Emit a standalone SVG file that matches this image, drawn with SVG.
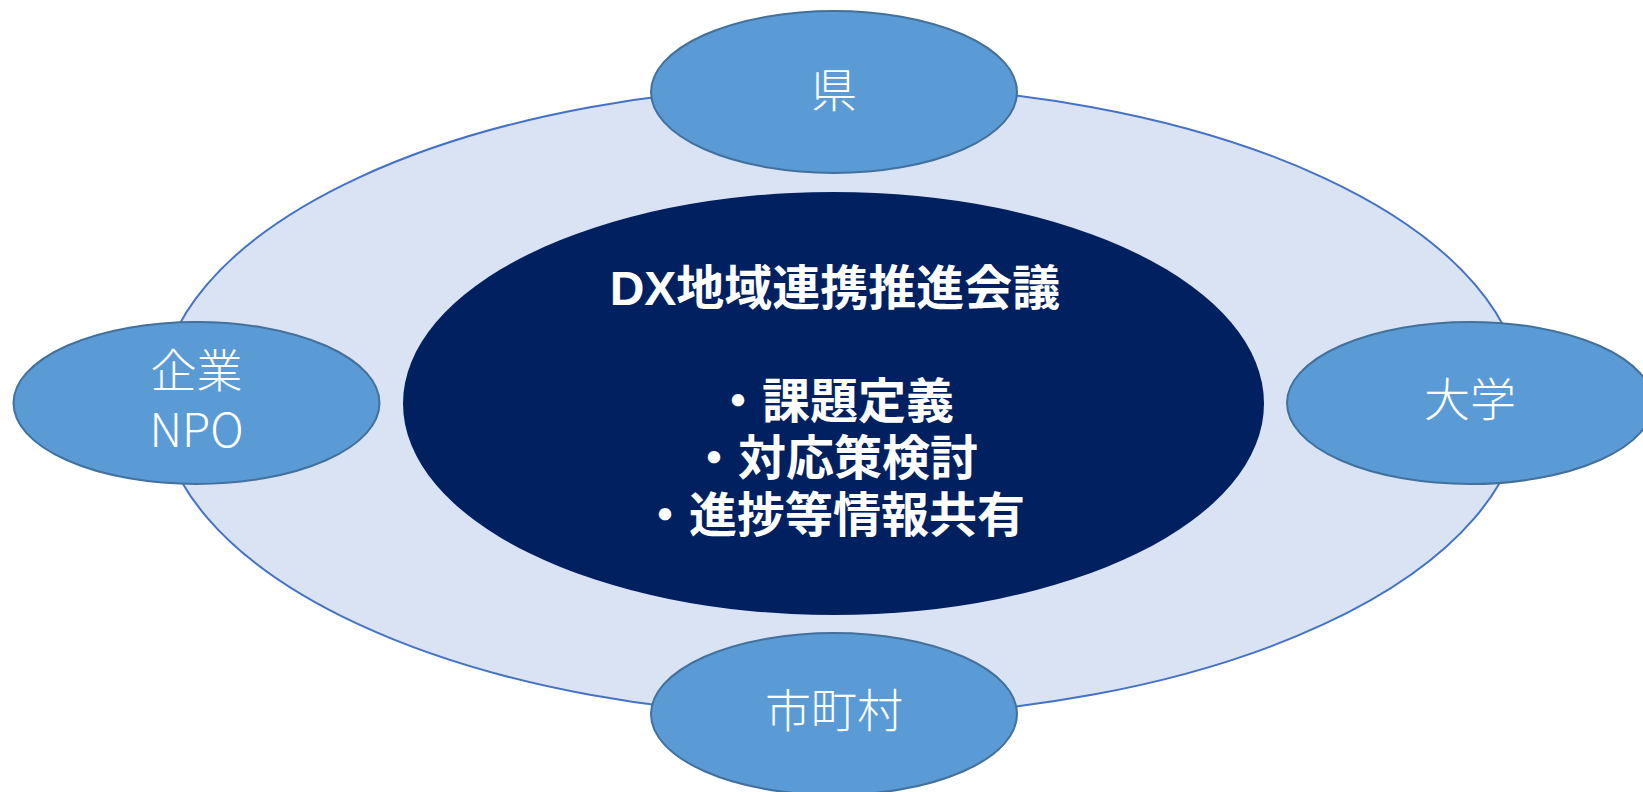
<svg xmlns="http://www.w3.org/2000/svg" width="1643" height="792" viewBox="0 0 1643 792">
<style>
.node{fill:#5B9BD5;stroke:#41719C;stroke-width:2}
.nt{font-family:"Noto Sans CJK JP","Noto Sans",sans-serif;font-size:46px;fill:#fff;text-anchor:middle;font-weight:300}
.ct{font-family:"Liberation Sans","Noto Sans CJK JP",sans-serif;font-size:48px;fill:#fff;text-anchor:middle;font-weight:bold}
</style>
<rect width="1643" height="792" fill="#fff"/>
<g id="ring">
<ellipse cx="841" cy="401" rx="682" ry="316" fill="#DAE3F3" stroke="#4472C4" stroke-width="2"/>
</g>
<g id="center">
<ellipse cx="833.5" cy="403.5" rx="430.5" ry="211.5" fill="#002060"/>
<text class="ct" x="835" y="305">DX地域連携推進会議</text>
<text class="ct" x="834" y="418">・課題定義</text>
<text class="ct" x="834" y="475">・対応策検討</text>
<text class="ct" x="833" y="532">・進捗等情報共有</text>
</g>
<g id="ken">
<ellipse class="node" cx="834" cy="92" rx="183" ry="81"/>
<text class="nt" x="834" y="107">県</text>
</g>
<g id="shichoson">
<ellipse class="node" cx="834" cy="714" rx="183" ry="81"/>
<text class="nt" x="834" y="727">市町村</text>
</g>
<g id="kigyo">
<ellipse class="node" cx="196.5" cy="403" rx="183" ry="81"/>
<text class="nt" x="196.5" y="387">企業</text>
<text class="nt" x="196.5" y="447">NPO</text>
</g>
<g id="daigaku">
<ellipse class="node" cx="1470" cy="403" rx="183" ry="81"/>
<text class="nt" x="1470" y="416">大学</text>
</g>
</svg>
